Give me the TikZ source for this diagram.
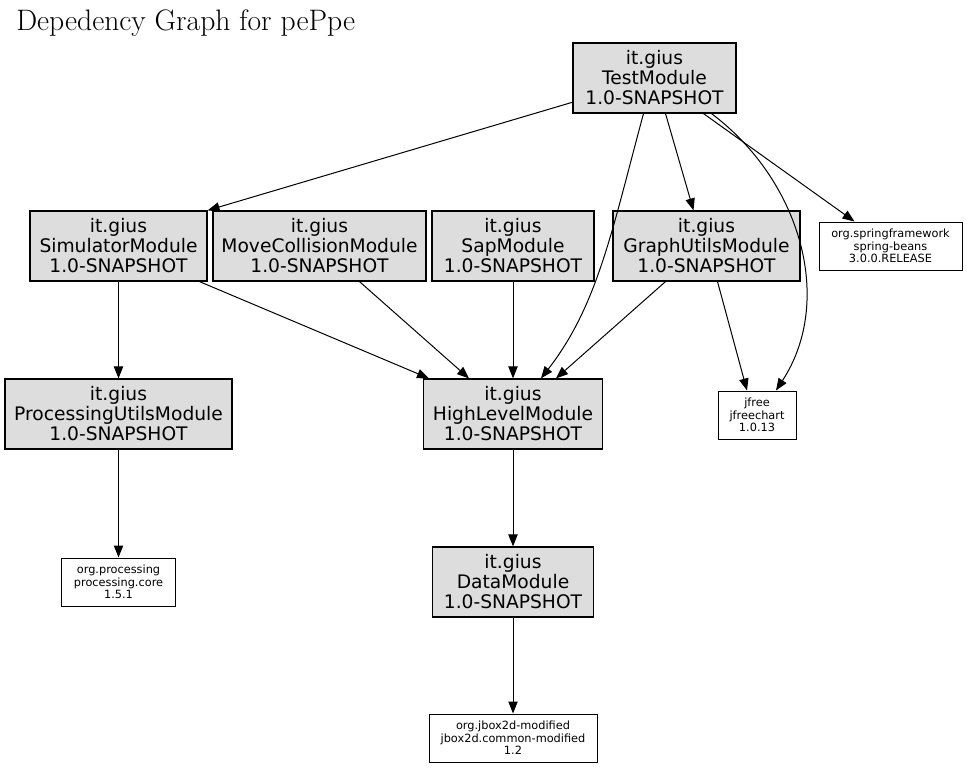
\documentclass[tikz,border=0pt]{standalone}
\usepackage{fontspec}
\newfontfamily\dvsans{DejaVu Sans}
\usetikzlibrary{arrows.meta,calc}
\definecolor{boxgray}{HTML}{DDDDDD}
\begin{document}
\begin{tikzpicture}[x=0.75pt, y=-0.75pt]
        \def\px{0.75pt}
        \tikzstyle{module}=[draw=black, fill=boxgray, line width=0.9pt, inner sep=0pt, align=center,
            minimum height=70*\px, font=\dvsans\fontsize{14}{15}\selectfont]
        \tikzstyle{lib}=[draw=black, fill=white, line width=0.75pt, inner sep=0pt, align=center,
            minimum height=48*\px, font=\dvsans\fontsize{8.5}{9.4}\selectfont]
        \tikzstyle{dep}=[-{Triangle[length=9pt, width=7pt]}, line width=0.75pt]

        \useasboundingbox (0,0) rectangle (967,768);

        % Title
        \node[anchor=base west, inner sep=0pt, font=\fontsize{22.2}{26}\selectfont] (title) at (16,30) {Depedency Graph for pePpe};

        % Nodes
        \node[module, minimum width=163*\px] (test) at (654.5, 78) {it.gius\\TestModule\\1.0-SNAPSHOT};

        \node[module, minimum width=177*\px] (sim) at (118.5, 246) {it.gius\\SimulatorModule\\1.0-SNAPSHOT};
        \node[module, minimum width=213*\px] (move) at (319.5, 246) {it.gius\\MoveCollisionModule\\1.0-SNAPSHOT};
        \node[module, minimum width=162*\px] (sap) at (513, 246) {it.gius\\SapModule\\1.0-SNAPSHOT};
        \node[module, minimum width=187*\px] (graph) at (706.5, 246) {it.gius\\GraphUtilsModule\\1.0-SNAPSHOT};
        \node[lib, minimum width=143*\px] (spring) at (890.5, 246) {org.springframework\\spring-beans\\3.0.0.RELEASE};

        \node[module, minimum width=227*\px] (proc) at (118.5, 414) {it.gius\\ProcessingUtilsModule\\1.0-SNAPSHOT};
        \node[module, minimum width=179*\px] (high) at (513, 414) {it.gius\\HighLevelModule\\1.0-SNAPSHOT};
        \node[lib, minimum width=78*\px] (jfree) at (757, 415) {jfree\\jfreechart\\1.0.13};

        \node[lib, minimum width=114*\px] (pcore) at (118.5, 582) {org.processing\\processing.core\\1.5.1};
        \node[module, minimum width=161*\px] (data) at (513, 582) {it.gius\\DataModule\\1.0-SNAPSHOT};

        \node[lib, minimum width=168*\px] (jbox) at (513, 738) {org.jbox2d-modified\\jbox2d.common-modified\\1.2};

        % Edges
        \draw[dep] (test) -- (sim.north east);
        \draw[dep] ($(test.south)+(-11,0)$) .. controls (612,230) and (598,305) .. ($(high.north)+(28,0)$);
        \draw[dep] ($(test.south)+(11,0)$) -- ($(graph.north)+(-13,0)$);
        \draw[dep] ($(test.south)+(57,0)$) .. controls (800,180) and (835,300) .. ($(jfree.north)+(19,0)$);
        \draw[dep] ($(test.south)+(49,0)$) -- ($(spring.north)+(-36,0)$);

        \draw[dep] (sim) -- (proc);
        \draw[dep] ($(sim.south)+(81,0)$) -- ($(high.north)+(-84,0)$);
        \draw[dep] ($(move.south)+(40,0)$) -- ($(high.north)+(-44,0)$);
        \draw[dep] (sap) -- (high);
        \draw[dep] ($(graph.south)+(-41,0)$) -- ($(high.north)+(43,0)$);
        \draw[dep] ($(graph.south)+(11,0)$) -- ($(jfree.north)+(-10,0)$);

        \draw[dep] (proc) -- (pcore);
        \draw[dep] (high) -- (data);
        \draw[dep] (data) -- (jbox);

    \end{tikzpicture}
\end{document}
